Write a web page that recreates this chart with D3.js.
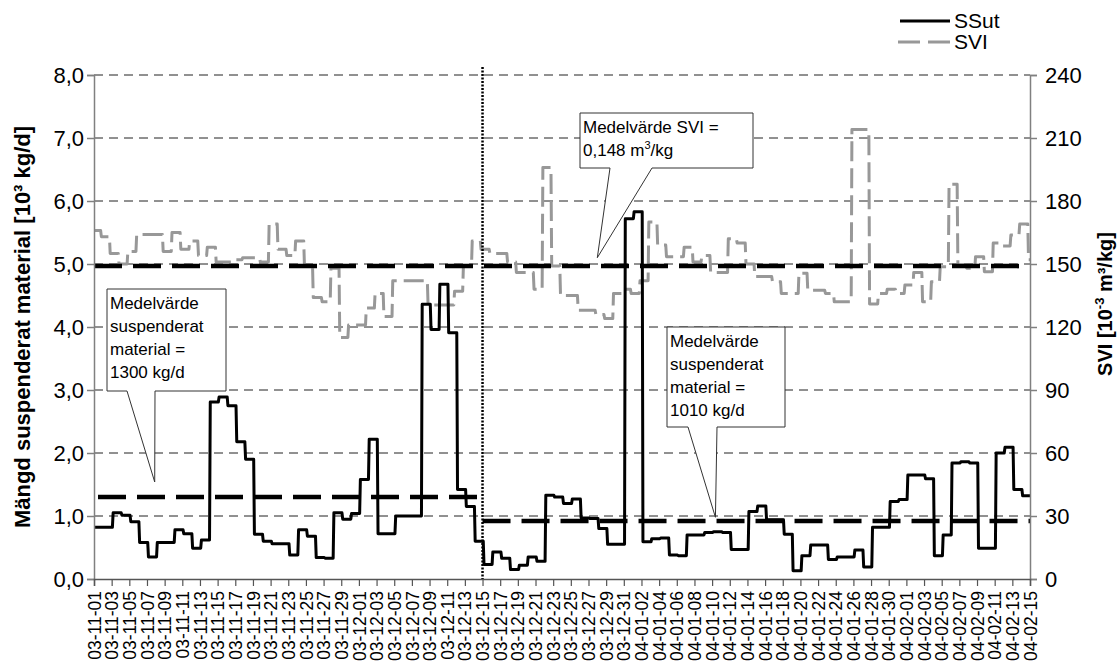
<!DOCTYPE html>
<html>
<head>
<meta charset="utf-8">
<script src="https://cdn.jsdelivr.net/npm/d3@7"></script>
<style>
  html, body { margin: 0; padding: 0; background: #fff; }
  svg { display: block; }
  text { font-family: "Liberation Sans", Arial, sans-serif; fill: #000; }
</style>
</head>
<body>
<svg id="chart" width="1120" height="670"></svg>
<script>
// ---------------- data ----------------
const startDate = "2003-11-01";
const endDate = "2004-02-15";
const splitDate = "2003-12-15";

// SSut, daily values [10^3 kg/d]
const ssut = [0.82,0.82,1.05,1.01,0.91,0.58,0.35,0.58,0.58,0.78,
  0.72,0.49,0.62,2.81,2.89,2.75,2.18,1.90,0.71,0.60,
  0.56,0.56,0.38,0.78,0.68,0.34,0.33,1.05,0.95,1.04,
  1.58,2.22,0.72,0.72,1.00,1.00,1.00,4.36,3.96,4.68,
  3.91,1.42,1.15,0.60,0.23,0.43,0.33,0.15,0.22,0.35,
  0.28,1.33,1.30,1.20,1.27,0.97,0.96,0.80,0.55,0.55,
  5.72,5.83,0.59,0.64,0.65,0.38,0.37,0.70,0.70,0.74,
  0.75,0.74,0.47,0.47,1.07,1.16,0.94,0.94,0.71,0.13,
  0.37,0.54,0.54,0.31,0.35,0.35,0.46,0.19,0.82,0.82,
  1.23,1.26,1.65,1.65,1.59,0.37,0.70,1.84,1.86,1.84,
  0.49,0.49,2.00,2.09,1.42,1.32];
const ssutSampleHour = 2;     // values change a little after midnight

// SVI, daily values [10^-3 m3/kg]
const svi = [166,163,155,150,156,164,164,164,156,165,
  157,161,154,158,151,151,152,153,153,151,
  169,157,154,161,149,134,132,148,115,121,
  121,129,136,125,142,142,142,142,130.5,130.5,
  130.5,137,149,161,157,155,155,151,146,146,
  138,196,149,135,135,128,128,126,124,136,
  138,136,142,170,159,153.5,153.5,158,151,154,
  146,146,162,160,150,144,144,141.6,136,136,
  145.6,137.5,137.5,136,132,132,214,214,131,136,
  138,136,140,146,132,141.6,148.7,188,149.5,148,
  153.5,146.3,160,158.6,163.8,169,152];
const sviSampleHour = -6;     // values change in the evening of the previous day

// mean values
const ssutMeanPeriods = ["2003-11-01", "2003-12-15", "2004-02-15"];
const ssutMeanValues = [1.30, 0.92];
const sviMeanValue = 149;

// axis ticks
const leftTicks = [0,1,2,3,4,5,6,7,8];
const rightTicks = [0,30,60,90,120,150,180,210,240];

// legend
const seriesNames = ["SSut", "SVI"];

// ---------------- layout ----------------
const svg = d3.select("#chart");
const X0 = 94, X1 = 1030, Y0 = 579, Y1 = 75;
const parse = d3.timeParse("%Y-%m-%d");
const t0 = parse(startDate), t1 = parse(endDate);
const nDays = d3.timeDay.count(t0, t1);

const x = d3.scaleTime().domain([t0, t1]).range([X0, X1]);
const yL = d3.scaleLinear().domain([0, 8]).range([Y0, Y1]);
const yR = d3.scaleLinear().domain([0, 240]).range([Y0, Y1]);

const FONT = '"Liberation Sans", Arial, sans-serif';
const commaFmt = v => d3.format(".1f")(v).replace(".", ",");

// gridlines
svg.append("g").selectAll("line").data(leftTicks.filter(d => d > 0)).join("line")
  .attr("x1", X0).attr("x2", X1)
  .attr("y1", d => yL(d)).attr("y2", d => yL(d))
  .attr("stroke", "#222").attr("stroke-width", 1)
  .attr("stroke-dasharray", "9,6");

// step-series builder
function stepPoints(values, hour) {
  const pts = [];
  const ramp = 0.12; // day fraction for transitions
  const off = hour / 24;
  values.forEach((v, i) => {
    let a = i + off + (i === 0 ? 0 : ramp);
    let b = i + 1 + off;
    a = Math.max(0, Math.min(nDays, a));
    b = Math.max(0, Math.min(nDays, b));
    if (i === 0) a = 0;
    if (i === values.length - 1) b = nDays;
    if (b <= a && i !== 0) { pts.push([a, v]); return; }
    pts.push([a, v]); pts.push([b, v]);
  });
  return pts;
}
const dayToDate = d => d3.timeHour.offset(t0, d * 24);

// SVI line
const sviLine = d3.line().x(d => x(dayToDate(d[0]))).y(d => yR(d[1]));
svg.append("path")
  .attr("d", sviLine(stepPoints(svi, sviSampleHour)))
  .attr("fill", "none").attr("stroke", "#989898").attr("stroke-width", 3)
  .attr("stroke-dasharray", "20,7").attr("stroke-linejoin", "round");

// SSut line
const ssLine = d3.line().x(d => x(dayToDate(d[0]))).y(d => yL(d[1]));
svg.append("path")
  .attr("d", ssLine(stepPoints(ssut, ssutSampleHour)))
  .attr("fill", "none").attr("stroke", "#000").attr("stroke-width", 3)
  .attr("stroke-linejoin", "round");

// mean lines
ssutMeanValues.forEach((v, i) => {
  const a = parse(ssutMeanPeriods[i]), b = parse(ssutMeanPeriods[i + 1]);
  svg.append("line")
    .attr("x1", x(a) + (i === 0 ? 4 : 0)).attr("x2", x(b) - (i === 0 ? 5 : 0))
    .attr("y1", yL(v)).attr("y2", yL(v))
    .attr("stroke", "#000").attr("stroke-width", 4.5)
    .attr("stroke-dasharray", "28,11");
});
svg.append("line")
  .attr("x1", X0).attr("x2", X1)
  .attr("y1", yR(sviMeanValue)).attr("y2", yR(sviMeanValue))
  .attr("stroke", "#000").attr("stroke-width", 4.5)
  .attr("stroke-dasharray", "28,11");

// dotted split line
svg.append("line")
  .attr("x1", x(parse(splitDate))).attr("x2", x(parse(splitDate)))
  .attr("y1", Y1 - 8).attr("y2", Y0)
  .attr("stroke", "#000").attr("stroke-width", 2.5)
  .attr("stroke-dasharray", "2,1.5");

// axes
const axisColor = "#808080";
const gL = svg.append("g").attr("transform", `translate(${X0},0)`)
  .call(d3.axisLeft(yL).tickValues(leftTicks).tickFormat(commaFmt).tickSize(7).tickPadding(3));
const gR = svg.append("g").attr("transform", `translate(${X1},0)`)
  .call(d3.axisRight(yR).tickValues(rightTicks).tickFormat(d3.format("d")).tickSize(7).tickPadding(8));
const xTicks = d3.timeDay.range(t0, d3.timeDay.offset(t1, 1), 2);
const gB = svg.append("g").attr("transform", `translate(0,${Y0})`)
  .call(d3.axisBottom(x).tickValues(xTicks).tickFormat(d3.timeFormat("%y-%m-%d")).tickSize(7).tickPadding(4));

[gL, gR].forEach(g => {
  g.select(".domain").attr("stroke", axisColor).attr("stroke-width", 1.5);
  g.selectAll(".tick line").attr("stroke", axisColor).attr("stroke-width", 1.5);
  g.selectAll("text").attr("font-family", FONT).attr("font-size", 22).attr("fill", "#000");
});
gB.select(".domain").attr("stroke", "#555").attr("stroke-width", 1.5);
gB.selectAll(".tick line").attr("stroke", "#555").attr("stroke-width", 1.2);
gB.selectAll("text")
  .attr("font-family", FONT).attr("font-size", 17.5).attr("fill", "#000")
  .attr("transform", "rotate(-90)")
  .attr("text-anchor", "end")
  .attr("x", -12).attr("y", 0).attr("dy", "0.35em");

// axis titles
svg.append("text")
  .attr("transform", `translate(30,${(Y0 + Y1) / 2}) rotate(-90)`)
  .attr("text-anchor", "middle").attr("font-size", 22).attr("font-weight", "bold")
  .text("Mängd suspenderat material [10³ kg/d]");
const rt = svg.append("text")
  .attr("transform", `translate(1112,304) rotate(-90)`)
  .attr("text-anchor", "middle").attr("font-size", 20).attr("font-weight", "bold");
rt.append("tspan").text("SVI [10");
rt.append("tspan").attr("dy", -8).attr("font-size", 13).text("-3");
rt.append("tspan").attr("dy", 8).text(" m³/kg]");

// legend
const legend = svg.append("g");
legend.append("line").attr("x1", 900).attr("x2", 950).attr("y1", 21).attr("y2", 21)
  .attr("stroke", "#000").attr("stroke-width", 3);
legend.append("line").attr("x1", 898).attr("x2", 950).attr("y1", 42).attr("y2", 42)
  .attr("stroke", "#989898").attr("stroke-width", 3).attr("stroke-dasharray", "22,8");
legend.selectAll("text").data(seriesNames).join("text")
  .attr("x", 954).attr("y", (d, i) => 21 + i * 21).attr("dy", "0.35em")
  .attr("font-size", 21).text(d => d);

// callouts
function callout(box, base, tip, lines, lineGap) {
  const [bx, by, bw, bh] = box;
  const p = d3.path();
  p.moveTo(bx, by); p.lineTo(bx + bw, by); p.lineTo(bx + bw, by + bh);
  p.lineTo(base[1], by + bh); p.lineTo(tip[0], tip[1]); p.lineTo(base[0], by + bh);
  p.lineTo(bx, by + bh); p.closePath();
  svg.append("path").attr("d", p.toString())
    .attr("fill", "#fff").attr("stroke", "#333").attr("stroke-width", 1);
  lines.forEach((ln, i) => {
    const t = svg.append("text").attr("x", bx + 3).attr("y", by + 20 + i * lineGap)
      .attr("font-size", 17);
    if (Array.isArray(ln)) {
      t.append("tspan").text(ln[0]);
      t.append("tspan").attr("dy", -7).attr("font-size", 11).text(ln[1]);
      t.append("tspan").attr("dy", 7).text(ln[2]);
    } else t.text(ln);
  });
}
callout([107, 289, 119, 102], [127, 155],
  [x(dayToDate(6.9)), yL(1.54)],
  ["Medelvärde", "suspenderat", "material =", "1300 kg/d"], 23);
callout([580, 113, 173, 55], [610, 652],
  [x(dayToDate(57.0)), yR(153)],
  ["Medelvärde SVI =", ["0,148 m", "3", "/kg"]], 23);
callout([667, 327, 118, 100], [688, 717],
  [x(dayToDate(70.4)), yL(0.98)],
  ["Medelvärde", "suspenderat", "material =", "1010 kg/d"], 23);
</script>
</body>
</html>
